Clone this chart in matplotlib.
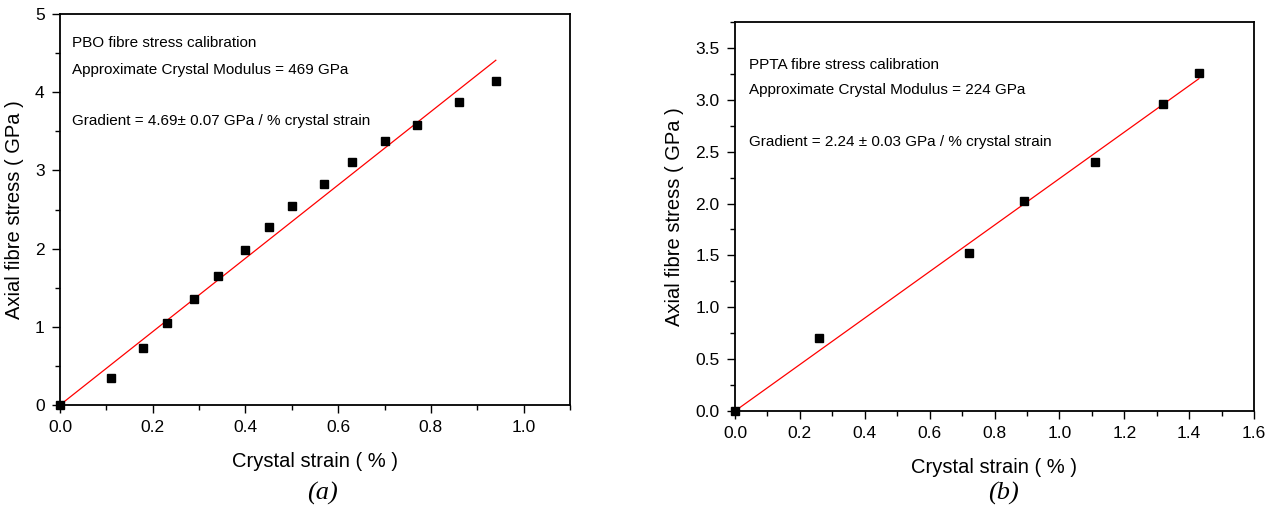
import matplotlib.pyplot as plt
from matplotlib.ticker import MultipleLocator

plt.rcParams['font.family'] = ['Liberation Sans', 'DejaVu Sans']

# PBO data (a)
pbo_strain = [0.0, 0.11, 0.18, 0.23, 0.29, 0.34, 0.40, 0.45, 0.50, 0.57, 0.63, 0.70, 0.77, 0.86, 0.94]
pbo_stress = [0.0, 0.34, 0.73, 1.05, 1.35, 1.65, 1.98, 2.27, 2.54, 2.82, 3.11, 3.37, 3.58, 3.88, 4.14]
pbo_slope = 4.69

# PPTA data (b)
ppta_strain = [0.0, 0.26, 0.72, 0.89, 1.11, 1.32, 1.43]
ppta_stress = [0.0, 0.70, 1.52, 2.02, 2.40, 2.96, 3.26]
ppta_slope = 2.24

fig = plt.figure(figsize=(12.7, 5.08), dpi=100)
W, H = 1270, 508
ax1 = fig.add_axes([60 / W, 1 - 405 / H, 510 / W, 391 / H])
ax2 = fig.add_axes([735 / W, 1 - 411 / H, 519 / W, 389 / H])


def style(ax, xmaj, xmin, ymaj, ymin, fmt):
    ax.xaxis.set_major_locator(MultipleLocator(xmaj))
    ax.xaxis.set_minor_locator(MultipleLocator(xmin))
    ax.yaxis.set_major_locator(MultipleLocator(ymaj))
    ax.yaxis.set_minor_locator(MultipleLocator(ymin))
    ax.tick_params(which='both', direction='out', top=False, right=False, labelsize=12.5, pad=5)
    ax.tick_params(which='major', length=6, width=1)
    ax.tick_params(which='minor', length=3.5, width=1)
    ax.xaxis.set_major_formatter(plt.FormatStrFormatter('%.1f'))
    ax.yaxis.set_major_formatter(plt.FormatStrFormatter(fmt))
    for s in ax.spines.values():
        s.set_linewidth(1.3)
    ax.set_xlabel('Crystal strain ( % )', fontsize=14.5, labelpad=12)
    ax.set_ylabel('Axial fibre stress ( GPa )', fontsize=14.5, labelpad=8)


# (a)
ax1.plot([0, pbo_strain[-1]], [0, pbo_slope * pbo_strain[-1]], color='red', lw=0.9)
ax1.plot(pbo_strain, pbo_stress, 's', color='black', ms=6, clip_on=False, zorder=3)
ax1.set_xlim(0, 1.1)
ax1.set_ylim(0, 5)
style(ax1, 0.2, 0.1, 1, 0.5, '%d')
ax1.text(0.024, 0.926, 'PBO fibre stress calibration', transform=ax1.transAxes, fontsize=11, va='center')
ax1.text(0.024, 0.857, 'Approximate Crystal Modulus = 469 GPa', transform=ax1.transAxes, fontsize=11, va='center')
ax1.text(0.024, 0.726, 'Gradient = 4.69\u00b1 0.07 GPa / % crystal strain', transform=ax1.transAxes, fontsize=11, va='center')

# (b)
ax2.plot([0, ppta_strain[-1]], [0, ppta_slope * ppta_strain[-1]], color='red', lw=0.9)
ax2.plot(ppta_strain, ppta_stress, 's', color='black', ms=6, clip_on=False, zorder=3)
ax2.set_xlim(0, 1.6)
ax2.set_ylim(0, 3.75)
style(ax2, 0.2, 0.1, 0.5, 0.25, '%.1f')
ax2.text(0.027, 0.889, 'PPTA fibre stress calibration', transform=ax2.transAxes, fontsize=11, va='center')
ax2.text(0.027, 0.825, 'Approximate Crystal Modulus = 224 GPa', transform=ax2.transAxes, fontsize=11, va='center')
ax2.text(0.027, 0.692, 'Gradient = 2.24 \u00b1 0.03 GPa / % crystal strain', transform=ax2.transAxes, fontsize=11, va='center')

fig.text(322 / W, 1 - 493 / H, '(a)', fontsize=19, style='italic', family='Liberation Serif', ha='center', va='center')
fig.text(1003 / W, 1 - 493 / H, '(b)', fontsize=19, style='italic', family='Liberation Serif', ha='center', va='center')

fig.savefig('out.png', dpi=100)
